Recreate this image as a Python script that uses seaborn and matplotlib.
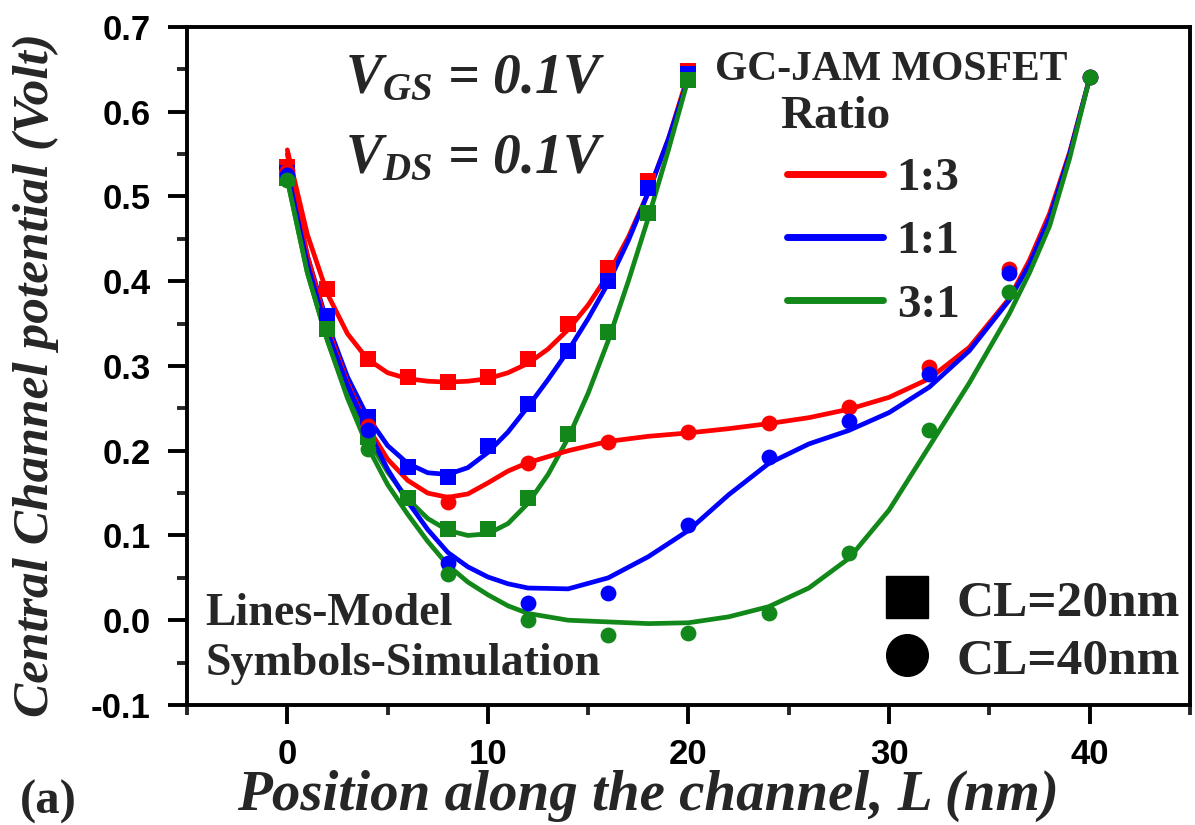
import matplotlib
matplotlib.use("Agg")
import matplotlib.pyplot as plt
import seaborn as sns
import pandas as pd
from matplotlib.lines import Line2D
from matplotlib.ticker import MultipleLocator

# ---------------- data ----------------
ratios = ["1:3", "1:1", "3:1"]
colors = ["#ff0000", "#0000ff", "#12881a"]

# simulation symbols
x_sim20 = [0, 2, 4, 6, 8, 10, 12, 14, 16, 18, 20]
x_sim40 = [0, 4, 8, 12, 16, 20, 24, 28, 32, 36, 40]
sim20_13 = [0.535, 0.391, 0.308, 0.287, 0.281, 0.287, 0.308, 0.349, 0.416, 0.518, 0.648]
sim20_11 = [0.528, 0.359, 0.240, 0.181, 0.169, 0.205, 0.255, 0.318, 0.400, 0.510, 0.645]
sim20_31 = [0.522, 0.344, 0.216, 0.144, 0.108, 0.108, 0.144, 0.220, 0.340, 0.481, 0.637]
sim40_13 = [0.530, 0.229, 0.140, 0.185, 0.210, 0.222, 0.233, 0.252, 0.299, 0.415, 0.641]
sim40_11 = [0.525, 0.225, 0.067, 0.020, 0.032, 0.112, 0.192, 0.235, 0.291, 0.410, 0.641]
sim40_31 = [0.520, 0.202, 0.055, 0.000, -0.018, -0.015, 0.008, 0.079, 0.224, 0.387, 0.641]

# model lines
x_mod20 = [0, 1, 2, 3, 4, 5, 6, 7, 8, 9, 10, 11, 12, 13, 14, 15, 16, 17, 18, 19, 20]
mod20_13 = [0.555, 0.455, 0.385, 0.338, 0.308, 0.292, 0.285, 0.282, 0.281, 0.282, 0.285,
            0.292, 0.303, 0.320, 0.343, 0.372, 0.408, 0.452, 0.505, 0.568, 0.645]
mod20_11 = [0.530, 0.430, 0.350, 0.287, 0.240, 0.206, 0.185, 0.174, 0.172, 0.180, 0.198,
            0.222, 0.252, 0.284, 0.318, 0.356, 0.398, 0.448, 0.505, 0.568, 0.640]
mod20_31 = [0.520, 0.410, 0.330, 0.265, 0.215, 0.175, 0.143, 0.120, 0.106, 0.100, 0.102,
            0.114, 0.138, 0.172, 0.215, 0.268, 0.330, 0.400, 0.475, 0.555, 0.640]

x_mod40 = [0, 1, 2, 3, 4, 5, 6, 7, 8, 9, 10, 11, 12, 14, 16, 18, 20, 22, 24, 26, 28,
           30, 32, 34, 36, 37, 38, 39, 40]
mod40_13 = [0.550, 0.430, 0.345, 0.280, 0.228, 0.190, 0.165, 0.150, 0.145, 0.149, 0.162,
            0.176, 0.186, 0.200, 0.211, 0.217, 0.221, 0.226, 0.232, 0.239, 0.249,
            0.263, 0.285, 0.322, 0.380, 0.425, 0.480, 0.552, 0.640]
mod40_11 = [0.530, 0.420, 0.340, 0.277, 0.225, 0.178, 0.140, 0.107, 0.080, 0.063, 0.051,
            0.043, 0.038, 0.037, 0.050, 0.075, 0.106, 0.148, 0.185, 0.208, 0.224,
            0.245, 0.275, 0.318, 0.378, 0.420, 0.475, 0.550, 0.640]
mod40_31 = [0.520, 0.410, 0.330, 0.262, 0.205, 0.160, 0.125, 0.093, 0.065, 0.045, 0.030,
            0.017, 0.008, 0.000, -0.002, -0.004, -0.003, 0.004, 0.016, 0.038, 0.073,
            0.130, 0.205, 0.280, 0.362, 0.410, 0.465, 0.545, 0.640]

x_ticks = [0, 10, 20, 30, 40]
y_ticks = [-0.1, 0.0, 0.1, 0.2, 0.3, 0.4, 0.5, 0.6, 0.7]

# ---------------- style ----------------
sns.set_style("ticks")
plt.rcParams["font.family"] = ["Liberation Serif", "DejaVu Serif"]
plt.rcParams["mathtext.fontset"] = "custom"
plt.rcParams["mathtext.rm"] = "Liberation Serif:bold:italic"
plt.rcParams["mathtext.it"] = "Liberation Serif:bold:italic"
plt.rcParams["mathtext.bf"] = "Liberation Serif:bold:italic"

fig = plt.figure(figsize=(11.95, 8.25), dpi=100)
ax = fig.add_axes([0.1565, 0.1455, 0.8393, 0.8218])

model_sets = [(x_mod20, [mod20_13, mod20_11, mod20_31]),
              (x_mod40, [mod40_13, mod40_11, mod40_31])]
for xs, ys_list in model_sets:
    for ys, c in zip(ys_list, colors):
        df = pd.DataFrame({"x": xs, "y": ys})
        sns.lineplot(data=df, x="x", y="y", color=c, lw=3.4, sort=False,
                     estimator=None, ax=ax, zorder=2)

sim_sets = [(x_sim20, [sim20_13, sim20_11, sim20_31], "s"),
            (x_sim40, [sim40_13, sim40_11, sim40_31], "o")]
for xs, ys_list, mk in sim_sets:
    for ys, c in zip(ys_list, colors):
        df = pd.DataFrame({"x": xs, "y": ys})
        sns.scatterplot(data=df, x="x", y="y", color=c, marker=mk, s=130,
                        linewidth=0, ax=ax, zorder=3)

ax.set_xlim(-5, 45)
ax.set_ylim(-0.1, 0.7)
ax.set_xticks(x_ticks)
ax.set_yticks(y_ticks)
ax.set_yticklabels([f"{v:.1f}" for v in y_ticks])
ax.xaxis.set_minor_locator(MultipleLocator(5))
ax.yaxis.set_minor_locator(MultipleLocator(0.05))

for sp in ax.spines.values():
    sp.set_linewidth(2.8)
    sp.set_color("black")
    sp.set_visible(True)
ax.tick_params(which="major", direction="out", length=14, width=2.8,
               labelsize=25, colors="black")
ax.tick_params(axis="x", which="major", pad=10)
ax.tick_params(axis="y", which="major", pad=12)
ax.tick_params(which="minor", direction="out", length=7, width=2.8)
for lab in ax.get_xticklabels() + ax.get_yticklabels():
    lab.set_fontfamily(["Liberation Sans", "DejaVu Sans"])
    lab.set_fontweight("bold")

ax.set_xlabel("Position along the channel, L (nm)", fontsize=41,
              fontweight="bold", fontstyle="italic")
ax.set_ylabel("Central Channel potential (Volt)", fontsize=37,
              fontweight="bold", fontstyle="italic")
ax.xaxis.set_label_coords(0.46, -0.095)
ax.yaxis.set_label_coords(-0.128, 0.487)

# annotations
ax.text(2.9, 0.622, "V$_{GS}$ = 0.1V", fontsize=40, fontweight="bold",
        fontstyle="italic", ha="left", va="baseline")
ax.text(2.9, 0.528, "V$_{DS}$ = 0.1V", fontsize=40, fontweight="bold",
        fontstyle="italic", ha="left", va="baseline")
ax.text(0.018, 0.118, "Lines-Model", transform=ax.transAxes, fontsize=33,
        fontweight="bold", ha="left", va="baseline")
ax.text(0.018, 0.044, "Symbols-Simulation", transform=ax.transAxes, fontsize=33,
        fontweight="bold", ha="left", va="baseline")
ax.text(0.702, 0.937, "GC-JAM MOSFET", transform=ax.transAxes, fontsize=30,
        fontweight="bold", ha="center", va="center")
ax.text(0.646, 0.867, "Ratio", transform=ax.transAxes, fontsize=34,
        fontweight="bold", ha="center", va="center")
fig.text(20 / 1195, 23 / 825, "(a)", fontsize=35, fontweight="bold",
         ha="left", va="center")

ratio_handles = [Line2D([], [], color=c, lw=5) for c in colors]
leg1 = ax.legend(ratio_handles, ratios, loc="upper left",
                 bbox_to_anchor=(0.579, 0.836), frameon=False,
                 prop={"family": "Liberation Serif", "weight": "bold", "size": 34},
                 handlelength=2.05, handletextpad=0.28, labelspacing=0.43,
                 borderaxespad=0)
ax.add_artist(leg1)

cl_handles = [Line2D([], [], color="black", marker="s", ls="none", markersize=30),
              Line2D([], [], color="black", marker="o", ls="none", markersize=30)]
ax.legend(cl_handles, ["CL=20nm", "CL=40nm"], loc="lower right",
          bbox_to_anchor=(1.01, 0.0), frameon=False,
          prop={"family": "Liberation Serif", "weight": "bold", "size": 37},
          handletextpad=0.45, labelspacing=0.22, borderaxespad=0,
          handlelength=1.0)

fig.savefig("out.png", dpi=100)
